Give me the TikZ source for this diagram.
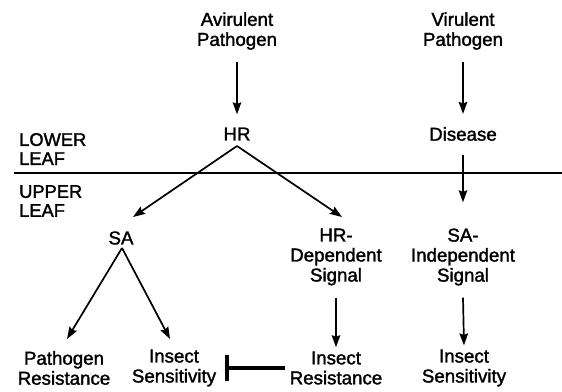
\documentclass[tikz,border=0pt]{standalone}
\usepackage{fontspec}
\setmainfont{Liberation Sans}[FakeBold=1.6]
\usetikzlibrary{arrows.meta}
\begin{document}
\begin{tikzpicture}[x=1pt,y=-1pt,
  lbl/.style={inner sep=0pt,align=center,font=\fontsize{18.7}{20}\selectfont},
  side/.style={inner sep=0pt,align=left,font=\fontsize{18.3}{19}\selectfont,anchor=west},
  arr/.style={line width=1.7pt,-{Stealth[length=12pt,width=8.5pt,inset=1.5pt]}},
  ln/.style={line width=1.7pt}]
\useasboundingbox (0,0) rectangle (562,391);
% nodes
\node[lbl] (avir) at (237,31) {Avirulent\\Pathogen};
\node[lbl] (vir) at (463,31) {Virulent\\Pathogen};
\node[lbl] (hr) at (237,134) {HR};
\node[lbl] (dis) at (463,134) {Disease};
\node[side] (lower) at (19,149) {LOWER\\LEAF};
\node[side] (upper) at (19,201) {UPPER\\LEAF};
\node[lbl] (sa) at (121,238) {SA};
\node[lbl] (hrd) at (336,257) {HR-\\Dependent\\Signal};
\node[lbl] (sai) at (463,257) {SA-\\Independent\\Signal};
\node[lbl] (pr) at (64,368) {Pathogen\\Resistance};
\node[lbl] (is1) at (174,368) {Insect\\Sensitivity};
\node[lbl] (ir) at (336,368) {Insect\\Resistance};
\node[lbl] (is2) at (464,368) {Insect\\Sensitivity};
% divider
\coordinate (divl) at (14,173);
\coordinate (divr) at (562,173);
\draw[line width=2pt] (divl) -- (divr);
% connectors
\draw[arr] ([yshift=-12pt]avir.south) -- ([yshift=13pt]hr.north);
\draw[arr] ([yshift=-12pt]vir.south) -- ([yshift=13pt]dis.north);
\coordinate (apex) at (237,146);
\draw[arr] (apex) -- (133,217);
\draw[arr] (apex) -- (342,217);
\draw[arr] ([yshift=-14pt]dis.south) -- ([yshift=26pt]sai.north);
\coordinate (saapex) at (122,248);
\draw[arr] (saapex) -- (67,339);
\draw[arr] (saapex) -- (170,339);
\draw[arr] ([yshift=-12pt]hrd.south) -- ([yshift=4pt]ir.north);
\draw[arr] ([yshift=-12pt]sai.south) -- ([yshift=4pt]is2.north);
% inhibition
\draw[line width=3.2pt] ([xshift=-5pt]ir.west) -- ([xshift=11pt]is1.east);
\draw[line width=3.6pt] ([xshift=11pt,yshift=-13pt]is1.east) -- ([xshift=11pt,yshift=13pt]is1.east);
\end{tikzpicture}
\end{document}
